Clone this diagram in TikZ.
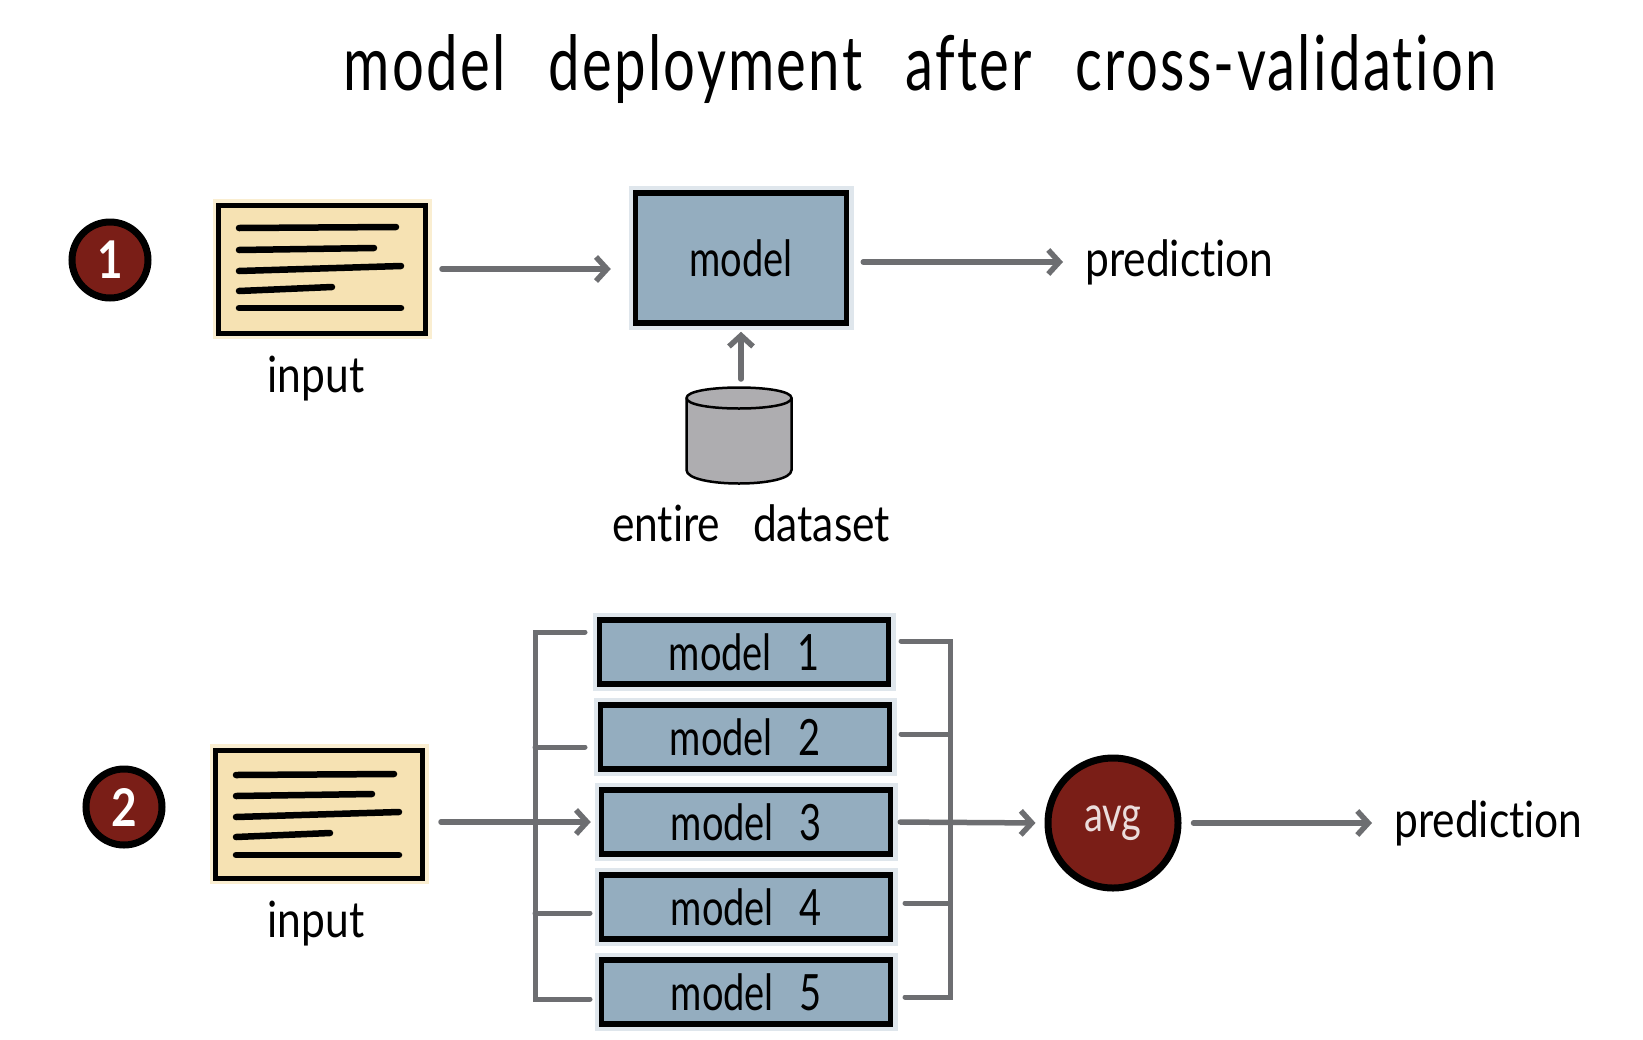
\documentclass[tikz,border=0pt]{standalone}
\usepackage{fontspec}
\setmainfont[FakeStretch=0.85,WordSpace=3,Ligatures=NoCommon]{Lato}
\newfontfamily\titlefont[FakeStretch=0.74,WordSpace=2.6,LetterSpace=3,Ligatures=NoCommon]{Lato}
\newfontfamily\boxfont[FakeStretch=0.76,WordSpace=2.6,Ligatures=NoCommon]{Lato}
\usetikzlibrary{arrows.meta,positioning,calc}
\definecolor{modelblue}{HTML}{94ADBF}
\definecolor{paper}{HTML}{F6E2B3}
\definecolor{wine}{HTML}{7A1E17}
\definecolor{wire}{HTML}{6D6E71}
\definecolor{drum}{HTML}{AEADB0}

\begin{document}
\begin{tikzpicture}[
  x=1pt, y=-1pt,
  label/.style={font=\fontsize{50}{54}\selectfont, text=black, inner sep=0pt},
  heading/.style={font=\titlefont\fontsize{76}{80}\selectfont, text=black, inner sep=0pt},
  model/.style={draw=black, line width=5.5pt, fill=modelblue, minimum width=289pt, minimum height=64pt, inner sep=0pt,
    preaction={draw=modelblue!30, line width=14pt}, font=\boxfont\fontsize{50}{54}\selectfont},
  inputbox/.style={draw=black, line width=5pt, fill=paper, minimum width=207pt, minimum height=128pt,
    preaction={draw=paper!60, line width=12pt}},
  badge/.style={circle, draw=black, line width=7pt, fill=wine, text=white, minimum size=76pt, inner sep=0pt,
    font=\fontsize{52}{56}\selectfont\bfseries},
  textline/.style={line width=6.5pt, line cap=round, draw=black},
  arrow/.style={-{Straight Barb[length=11pt,width=24pt]}, line width=5.5pt, draw=wire, line cap=round},
  rail/.style={line width=5pt, draw=wire, line cap=round},
  drumline/.style={draw=black, line width=2.5pt, fill=drum}
]

\useasboundingbox (0,0) rectangle (1643,1039);

\node[heading] (title) at (920,69) {model deployment after cross-validation};

\node[badge] (numa) at (110,260) {1};
\node[inputbox] (inputa) at (322,269) {};
\node[label, below=20pt of inputa, xshift=-6pt] (inputlabela) {input};
\draw[textline] (239,228) -- (396,227);
\draw[textline] (239,250) -- (374,248);
\draw[textline] (239,271) -- (401,266);
\draw[textline] (239,291) -- (332,287);
\draw[textline] (239,308) -- (401,308);

\node[model, minimum width=211pt, minimum height=130pt] (modela) at (741,258) {model};
\node[minimum width=105pt, minimum height=72pt, inner sep=0pt, outer sep=0pt] (dataset) at (739,434) {};
\draw[drumline] (dataset.north west) .. controls ($(dataset.north west)+(0,-14)$) and ($(dataset.north east)+(0,-14)$) .. (dataset.north east)
  -- (dataset.south east) .. controls ($(dataset.south east)+(0,18)$) and ($(dataset.south west)+(0,18)$) .. (dataset.south west) -- cycle;
\draw[drumline, fill=none] (dataset.north west) .. controls ($(dataset.north west)+(0,14)$) and ($(dataset.north east)+(0,14)$) .. (dataset.north east);
\node[label, below=34pt of dataset, xshift=12pt] (datasetlabel) {entire dataset};
\node[label, anchor=west] (predictiona) at (1085,262) {prediction};

\draw[arrow, shorten <=14pt, shorten >=22pt] (inputa.east) -- (inputa.east -| modela.west);
\draw[arrow, shorten <=14pt, shorten >=22pt] (modela.east |- predictiona.west) -- (predictiona.west);
\draw[arrow, shorten <=19pt, shorten >=6pt] (dataset.north -| modela.south) -- (modela.south);

\node[badge] (numb) at (124,807) {2};
\node[inputbox] (inputb) at (319,814) {};
\node[label, below=20pt of inputb, xshift=-3pt] (inputlabelb) {input};
\draw[textline] (236,775) -- (394,774);
\draw[textline] (236,796) -- (372,794);
\draw[textline] (236,817) -- (399,812);
\draw[textline] (236,837) -- (330,833);
\draw[textline] (236,855) -- (399,855);

\node[model] (modelone) at (744,652) {model 1};
\node[model, below=15.5pt of modelone, xshift=1pt] (modeltwo) {model 2};
\node[model, below=15.5pt of modeltwo, xshift=1pt] (modelthree) {model 3};
\node[model, below=15.5pt of modelthree] (modelfour) {model 4};
\node[model, below=15.5pt of modelfour] (modelfive) {model 5};

\node[circle, draw=black, line width=7pt, fill=wine, text=white!85!wine, minimum size=130pt, inner sep=0pt,
  font=\boxfont\fontsize{50}{54}\selectfont] (avg) at (1113,823) {\raisebox{-5pt}{avg}};
\node[label, anchor=west] (predictionb) at (1394,823) {prediction};

\coordinate (leftrail) at (535,632);
\coordinate (lefttop) at (585,632);
\coordinate (leftmid) at (585,747);
\coordinate (leftlow) at (590,913);
\coordinate (leftbot) at (590,999);
\coordinate (rightrail) at (950,641);
\coordinate (righttop) at (901,641);
\coordinate (rightmid) at (901,734);
\coordinate (rightlow) at (905,903);
\coordinate (rightbot) at (905,997);

\draw[rail] (lefttop) -- (leftrail) -- (leftrail |- leftbot) -- (leftbot);
\draw[rail] (leftrail |- leftmid) -- (leftmid);
\draw[rail] (leftrail |- leftlow) -- (leftlow);
\draw[rail] (righttop) -- (rightrail) -- (rightrail |- rightbot) -- (rightbot);
\draw[rail] (rightmid) -- (rightrail |- rightmid);
\draw[rail] (rightlow) -- (rightrail |- rightlow);

\draw[arrow, shorten <=16pt, shorten >=8pt] (inputb.east |- modelthree.west) -- (modelthree.west);
\draw[arrow, shorten <=7pt, shorten >=9pt] (modelthree.east) -- (avg.west);
\draw[arrow, shorten <=12pt, shorten >=22pt] (avg.east) -- (predictionb.west);

\end{tikzpicture}
\end{document}
